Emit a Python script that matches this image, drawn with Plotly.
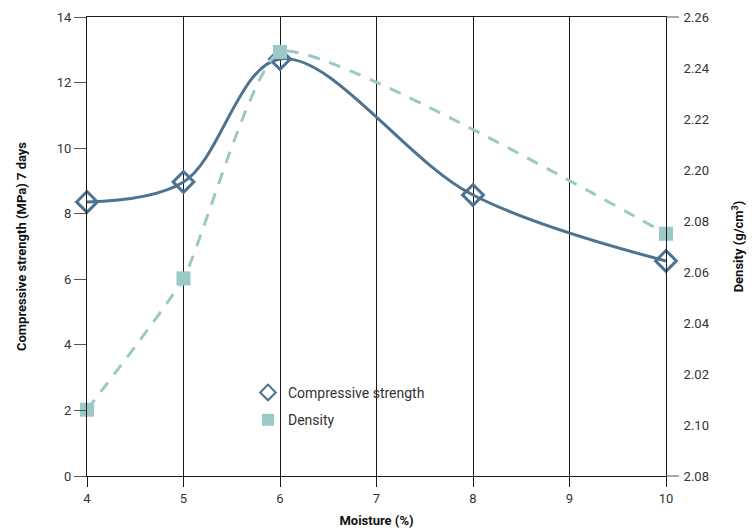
import plotly.graph_objects as go

moisture_strength = [4, 5, 6, 8, 10]
strength = [8.36, 8.97, 12.72, 8.57, 6.56]

moisture_density = [4, 5, 6, 10]
density = [2.106, 2.1575, 2.2463, 2.175]

x_ticks = [4, 5, 6, 7, 8, 9, 10]
y_ticks = [0, 2, 4, 6, 8, 10, 12, 14]
y2_tickvals = [2.08, 2.10, 2.12, 2.14, 2.16, 2.18, 2.20, 2.22, 2.24, 2.26]
y2_ticktext = ["2.08", "2.10", "2.02", "2.04", "2.06", "2.08", "2.20", "2.22", "2.24", "2.26"]

C_STR = "#4d7390"
C_DEN = "#9bc9c5"
FONT = "Roboto"
GRID = "#1a1a1a"

fig = go.Figure()

fig.add_trace(go.Scatter(
    x=moisture_density, y=density, yaxis="y2", mode="lines+markers",
    line=dict(color=C_DEN, width=3, dash="12px,10px", shape="spline", smoothing=0.45),
    marker=dict(symbol="square", size=14, color=C_DEN),
    showlegend=False, cliponaxis=False,
))
fig.add_trace(go.Scatter(
    x=moisture_strength, y=strength, mode="lines+markers",
    line=dict(color=C_STR, width=3, shape="spline", smoothing=1),
    marker=dict(symbol="diamond-open", size=16, color=C_STR, line=dict(width=3, color=C_STR)),
    showlegend=False, cliponaxis=False,
))
# legend entries (markers only)
fig.add_trace(go.Scatter(
    x=[None], y=[None], mode="markers", name="Compressive strength", legendgroup="a",
    marker=dict(symbol="diamond-open", size=14, color=C_STR, line=dict(width=3, color=C_STR)),
))
fig.add_trace(go.Scatter(
    x=[None], y=[None], mode="markers", name="Density", legendgroup="b",
    marker=dict(symbol="square", size=14, color=C_DEN),
))

fig.update_layout(
    width=748, height=522,
    margin=dict(l=79, r=90, t=9, b=54, autoexpand=False),
    paper_bgcolor="white", plot_bgcolor="white",
    font=dict(family=FONT, size=13, color="#333333"),
    xaxis=dict(
        range=[4, 10], tickvals=x_ticks, showgrid=True, gridcolor=GRID, gridwidth=1,
        showline=True, linecolor=GRID, linewidth=1, mirror=True, automargin=False,
        ticks="outside", ticklen=10, tickcolor=GRID, zeroline=False,
        title=dict(text="<b>Moisture (%)</b>", font=dict(size=13, color="#111"), standoff=11),
        tickfont=dict(size=13, color="#333"),
    ),
    yaxis=dict(
        range=[0, 14], tickvals=y_ticks, showgrid=False, zeroline=False, automargin=False,
        showline=True, linecolor=GRID, linewidth=1,
        ticks="outside", ticklen=12, tickcolor="#555",
        title=dict(text="<b>Compressive strength (MPa) 7 days</b>", font=dict(size=13, color="#111"), standoff=27),
        tickfont=dict(size=13, color="#333"),
    ),
    yaxis2=dict(
        range=[2.08, 2.26], overlaying="y", side="right", automargin=False,
        tickvals=y2_tickvals, ticktext=y2_ticktext, showgrid=False, zeroline=False,
        showline=True, linecolor=GRID, linewidth=1,
        ticks="outside", ticklen=14, tickcolor="rgba(0,0,0,0)",
        title=dict(text="<b>Density (g/cm<sup>3</sup>)</b>", font=dict(size=13, color="#111"), standoff=25),
        tickfont=dict(size=13, color="#333"),
    ),
    legend=dict(
        x=0.278, y=0.216, xanchor="left", yanchor="top",
        bgcolor="rgba(0,0,0,0)", font=dict(size=14, color="#333"),
        tracegroupgap=6, itemsizing="constant",
    ),
    shapes=[
        dict(type="line", xref="paper", yref="paper", x0=1, x1=1 + 13/579, y0=0, y1=0,
             line=dict(color="#555", width=1)),
        dict(type="line", xref="paper", yref="paper", x0=1, x1=1 + 13/579, y0=1, y1=1,
             line=dict(color="#555", width=1)),
    ],
)

fig.write_html("out.html")
